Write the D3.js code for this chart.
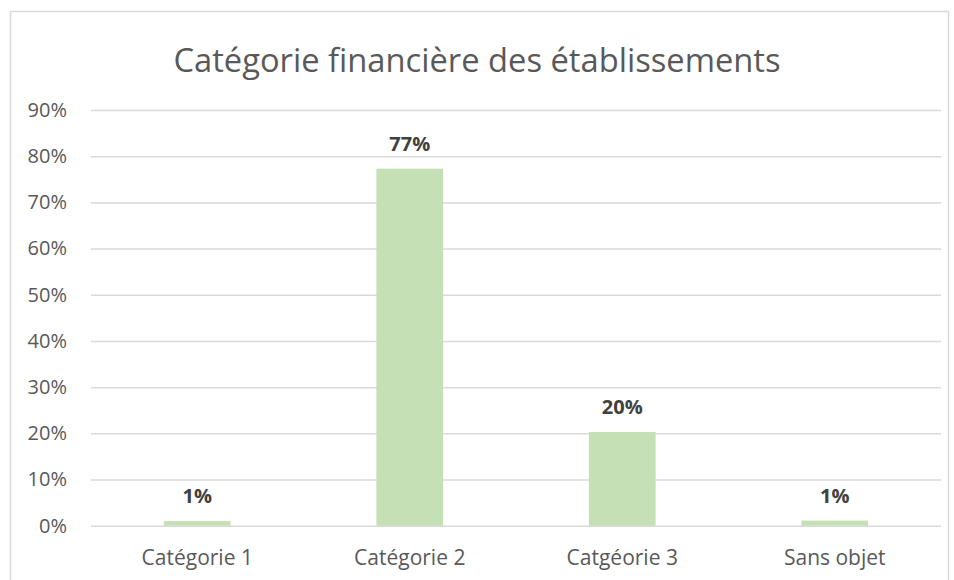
<!doctype html>
<html>
  <head>
    <meta charset="utf-8">
    <title>Catégorie financière des établissements</title>
    <script src="https://cdnjs.cloudflare.com/ajax/libs/d3/7.8.5/d3.min.js"></script>
    <style>
      body { margin: 0; background: #fff; }
      text { font-family: "Open Sans", "Liberation Sans", sans-serif; }
    </style>
  </head>
  <body>
    <div id="chart"></div>
    <script>
      // données (en %)
      const categories = ['Catégorie 1', 'Catégorie 2', 'Catgéorie 3', 'Sans objet'];
      const valeurs = [1.0, 77.3, 20.3, 1.1];
      const etiquettes = ['1%', '77%', '20%', '1%'];
      const ticks = [0, 10, 20, 30, 40, 50, 60, 70, 80, 90];

      const width = 954, height = 580;
      const margin = { left: 91, right: 13, top: 110, bottom: 54 };

      const svg = d3.select('#chart')
        .append('svg')
        .attr('width', width)
        .attr('height', height);

      // cadre du graphique
      svg.append('rect')
        .attr('x', 10.5).attr('y', 11.5)
        .attr('width', 938).attr('height', 600)
        .attr('fill', 'none')
        .attr('stroke', '#d9d9d9')
        .attr('stroke-width', 1.5);

      const x = d3.scaleBand()
        .domain(categories)
        .range([margin.left, width - margin.right])
        .paddingInner(0.686)
        .paddingOuter(0.343);

      const y = d3.scaleLinear()
        .domain([0, 90])
        .range([height - margin.bottom - 0.3, margin.top]);

      // grille + axe y
      const yAxis = svg.append('g')
        .attr('transform', `translate(${margin.left},0)`)
        .call(d3.axisLeft(y).tickValues(ticks).tickSize(-(width - margin.left - margin.right)).tickFormat(d => d + '%').tickPadding(24));
      yAxis.select('.domain').remove();
      yAxis.selectAll('line').attr('stroke', '#d9d9d9').attr('stroke-width', 1.5);
      yAxis.selectAll('text').attr('fill', '#595959').style('font-size', '20px');

      // axe x (libellés seulement)
      const xAxis = svg.append('g')
        .attr('transform', `translate(0,${height - margin.bottom})`)
        .call(d3.axisBottom(x).tickSize(0).tickPadding(24));
      xAxis.select('.domain').remove();
      xAxis.selectAll('text').attr('fill', '#595959').style('font-size', '21px');

      // barres
      svg.selectAll('rect.barre')
        .data(valeurs)
        .join('rect')
        .attr('class', 'barre')
        .attr('x', (d, i) => x(categories[i]))
        .attr('y', d => y(d))
        .attr('width', x.bandwidth())
        .attr('height', d => y(0) - y(d))
        .attr('fill', '#c5e0b4');

      // étiquettes de valeur
      svg.selectAll('text.etiq')
        .data(valeurs)
        .join('text')
        .attr('class', 'etiq')
        .attr('x', (d, i) => x(categories[i]) + x.bandwidth() / 2)
        .attr('y', d => y(d) - 18)
        .attr('text-anchor', 'middle')
        .attr('fill', '#404040')
        .style('font-size', '20px')
        .style('font-weight', 'bold')
        .text((d, i) => etiquettes[i]);

      // titre
      svg.append('text')
        .attr('x', 477)
        .attr('y', 72)
        .attr('text-anchor', 'middle')
        .attr('fill', '#595959')
        .style('font-size', '32.7px')
        .text('Catégorie financière des établissements');
    </script>
  </body>
</html>
